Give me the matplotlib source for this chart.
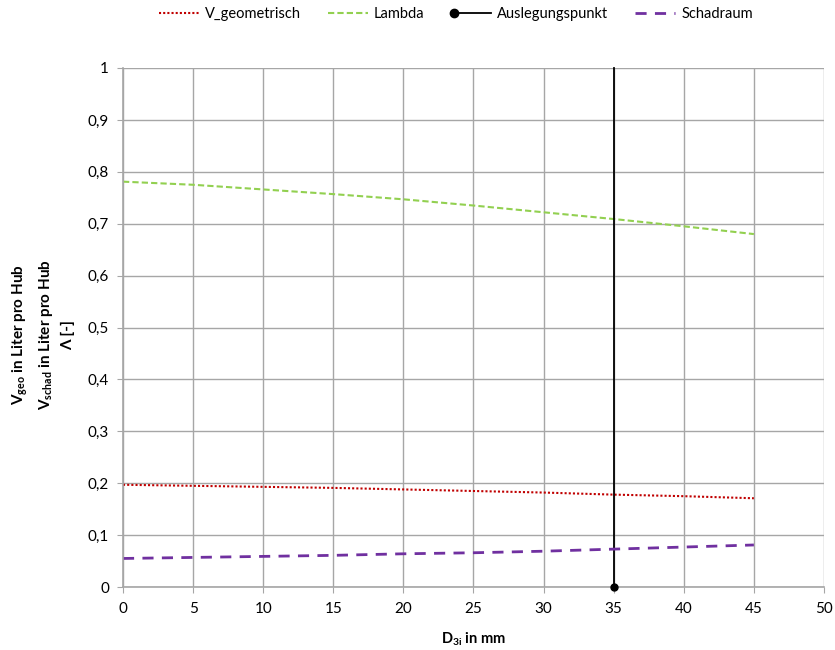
import matplotlib
matplotlib.use("Agg")
import matplotlib.pyplot as plt
from matplotlib.lines import Line2D
from matplotlib.legend_handler import HandlerLine2D

plt.rcParams['font.family'] = ['Lato', 'DejaVu Sans']
plt.rcParams['mathtext.fontset'] = 'custom'
plt.rcParams['mathtext.rm'] = 'Lato'
plt.rcParams['mathtext.bf'] = 'Lato:bold'

# data
d3i = [0, 5, 10, 15, 20, 25, 30, 35, 40, 45]
v_geo = [0.197, 0.195, 0.193, 0.191, 0.188, 0.185, 0.182, 0.178, 0.175, 0.171]
lam = [0.781, 0.775, 0.766, 0.757, 0.747, 0.735, 0.722, 0.709, 0.695, 0.680]
schad = [0.055, 0.057, 0.059, 0.061, 0.064, 0.066, 0.069, 0.073, 0.077, 0.081]
ausl_x = [35, 35]
ausl_y = [0, 1]

xticks = list(range(0, 51, 5))
yticks = [i / 10 for i in range(11)]
ytick_labels = ["0" if t == 0 else ("1" if t == 1 else f"{t:.1f}".replace(".", ",")) for t in yticks]


class MarkerLeft(HandlerLine2D):
    # legend entry with the marker at the left end of the line, like Excel
    def create_artists(self, legend, orig_handle, xdescent, ydescent, width, height, fontsize, trans):
        y = height / 2 - ydescent
        line = Line2D([-xdescent, width - xdescent], [y, y], color=orig_handle.get_color(),
                      lw=orig_handle.get_linewidth(), transform=trans)
        mark = Line2D([-xdescent + 2], [y], marker="o", ms=orig_handle.get_markersize(),
                      color=orig_handle.get_color(), ls="none", transform=trans)
        return [line, mark]


fig = plt.figure(figsize=(8.35, 6.5), dpi=100)
ax = fig.add_axes([0.1473, 0.0969, 0.8395, 0.7985])

ax.plot(d3i, v_geo, color="#C00000", ls=(0, (1, 1)), lw=1.5)
ax.plot(d3i, lam, color="#92D050", ls=(0, (3, 1.5)), lw=1.5)
ax.plot(ausl_x, ausl_y, color="black", lw=1.3, clip_on=False)
ax.plot(ausl_x[:1], ausl_y[:1], "o", color="black", ms=5, clip_on=False, zorder=5)
ax.plot(d3i, schad, color="#7030A0", ls=(0, (4, 3)), lw=2)

ax.set_xlim(0, 50)
ax.set_ylim(0, 1)
ax.set_xticks(xticks)
ax.set_yticks(yticks)
ax.set_yticklabels(ytick_labels)
ax.grid(True, color="#a6a6a6", lw=1)
ax.set_axisbelow(True)
for s in ["top", "right"]:
    ax.spines[s].set_visible(False)
for s in ["left", "bottom"]:
    ax.spines[s].set_color("#a6a6a6")
    ax.spines[s].set_linewidth(1.2)
ax.tick_params(colors="#a6a6a6", labelcolor="black", labelsize=11, length=4)
ax.tick_params(axis="x", pad=7)
ax.tick_params(axis="y", pad=6)

ax.set_xlabel(r"$\mathbf{D_{3i}}$ in mm", fontsize=10.5, fontweight="bold", labelpad=10)
fig.text(43 / 835, 0.485,
         "$\\mathbf{V_{geo}}$ in Liter pro Hub\n$\\mathbf{V_{schad}}$ in Liter pro Hub\nΛ [-]",
         rotation=90, ha="center", va="center", multialignment="center",
         fontsize=11, fontweight="bold", linespacing=1.55)

ausl_handle = Line2D([], [], color="black", lw=1.3, marker="o", ms=6)
handles = [
    Line2D([], [], color="#C00000", ls=(0, (1, 1)), lw=1.5),
    Line2D([], [], color="#92D050", ls=(0, (3, 1.5)), lw=1.5),
    ausl_handle,
    Line2D([], [], color="#7030A0", ls=(0, (4, 3)), lw=2),
]
labels = ["V_geometrisch", "Lambda", "Auslegungspunkt", "Schadraum"]
fig.legend(handles, labels, loc="upper center", bbox_to_anchor=(0.546, 1.01), ncol=4,
           frameon=False, fontsize=10.5, handlelength=2.75, handletextpad=0.4, columnspacing=1.85,
           handler_map={ausl_handle: MarkerLeft()})

fig.savefig("out.png", dpi=100)
